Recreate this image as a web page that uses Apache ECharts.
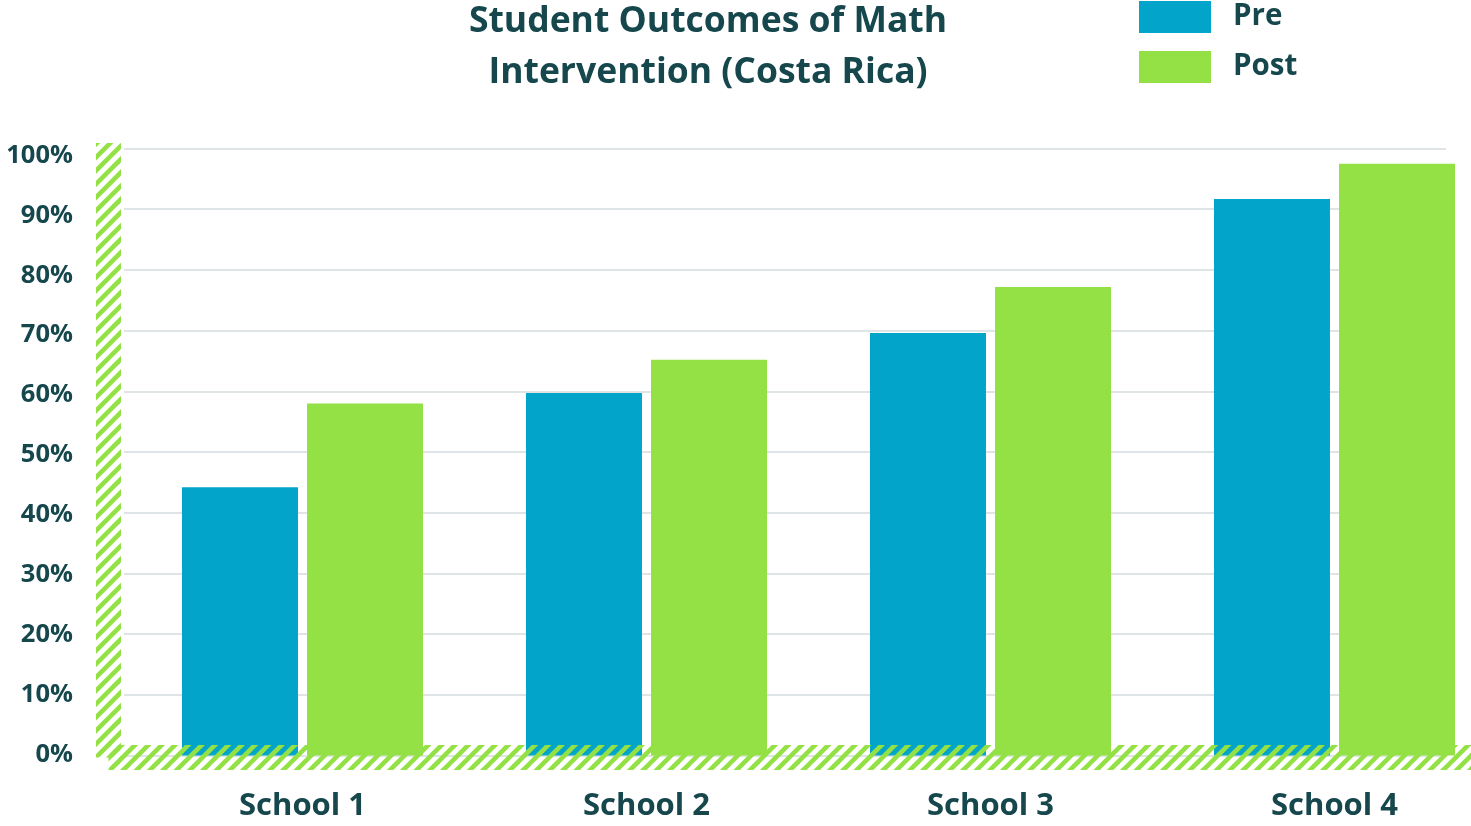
<!DOCTYPE html>
<html>
<head>
<meta charset="utf-8">
<script src="https://cdn.jsdelivr.net/npm/echarts@6/dist/echarts.min.js"></script>
<style>
  html, body { margin: 0; padding: 0; background: #fff; }
  #chart { width: 1471px; height: 826px; }
</style>
</head>
<body>
<div id="chart"></div>
<script>
// data
var schools = ['School 1', 'School 2', 'School 3', 'School 4'];
var preValues = [44.2, 59.7, 69.6, 91.7];
var postValues = [58, 65.2, 77.2, 97.5];
var seriesNames = ['Pre', 'Post'];

var textColor = '#16474d';
var blue = '#02a5c9';
var green = '#94e145';
var font = 'Open Sans';

// diagonal stripe tile for the hatched axes (3 stripes per 40px tile)
function stripeTile() {
  var size = 40;
  var c = document.createElement('canvas');
  c.width = size;
  c.height = size;
  var ctx = c.getContext('2d');
  ctx.strokeStyle = green;
  ctx.lineWidth = 4.6;
  var step = size / 3;
  for (var k = -6; k <= 9; k++) {
    var s = k * step;
    ctx.beginPath();
    ctx.moveTo(s + size, -size);
    ctx.lineTo(s - 2 * size, 2 * size);
    ctx.stroke();
  }
  return c;
}
var hatch = { image: stripeTile(), repeat: 'repeat' };

var chart = echarts.init(document.getElementById('chart'));

var hatchAxis = {
  gridIndex: 2,
  type: 'value',
  min: 0,
  max: 1,
  z: 3,
  axisLine: { show: true, onZero: false, lineStyle: { color: hatch, width: 25, cap: 'butt' } },
  axisTick: { show: false },
  axisLabel: { show: false },
  splitLine: { show: false }
};

var option = {
  backgroundColor: '#fff',
  animation: false,
  textStyle: { fontFamily: font },
  title: {
    text: 'Student Outcomes of Math\nIntervention (Costa Rica)',
    left: 708,
    top: -4,
    padding: 0,
    textAlign: 'center',
    textStyle: {
      fontFamily: font,
      fontSize: 35.5,
      fontWeight: 'bold',
      color: textColor,
      lineHeight: 51
    }
  },
  legend: {
    orient: 'vertical',
    left: 1139,
    top: 1,
    padding: 0,
    itemWidth: 72,
    itemHeight: 32,
    itemGap: 18,
    icon: 'rect',
    data: seriesNames,
    textStyle: {
      fontFamily: font,
      fontSize: 29.5,
      fontWeight: 'bold',
      color: textColor,
      padding: [0, 0, 0, 17]
    }
  },
  grid: [
    // grid lines
    { left: 124, right: 25, top: 148.5, bottom: 70.5, outerBoundsMode: 'none' },
    // bars
    { left: 130.5, width: 1376, top: 148.5, bottom: 70.5, outerBoundsMode: 'none' },
    // hatched axis bands
    { left: 108.5, right: 0, top: 143, bottom: 68.5, outerBoundsMode: 'none' },
    // y labels (spaced a little tighter than the grid lines)
    { left: 124, right: 25, top: 155.5, bottom: 71.5, outerBoundsMode: 'none' }
  ],
  xAxis: [
    { gridIndex: 0, type: 'category', data: schools, show: false },
    {
      gridIndex: 1,
      type: 'category',
      data: schools,
      axisLine: { show: false },
      axisTick: { show: false },
      axisLabel: {
        margin: 35,
        fontFamily: font,
        fontSize: 31,
        fontWeight: 'bold',
        color: textColor
      }
    },
    hatchAxis,
    { gridIndex: 3, type: 'category', data: schools, show: false }
  ],
  yAxis: [
    {
      gridIndex: 0,
      type: 'value',
      min: 0,
      max: 100,
      interval: 10,
      axisLine: { show: false },
      axisTick: { show: false },
      axisLabel: { show: false },
      splitLine: { lineStyle: { color: '#dfe4e6', width: 2 } }
    },
    { gridIndex: 1, type: 'value', min: 0, max: 100, show: false },
    hatchAxis,
    {
      gridIndex: 3,
      type: 'value',
      min: 0,
      max: 100,
      interval: 10,
      axisLine: { show: false },
      axisTick: { show: false },
      splitLine: { show: false },
      axisLabel: {
        formatter: '{value}%',
        margin: 51,
        fontFamily: font,
        fontSize: 25.5,
        fontWeight: 'bold',
        color: textColor
      }
    }
  ],
  series: [
    {
      name: seriesNames[0],
      type: 'bar',
      xAxisIndex: 1,
      yAxisIndex: 1,
      z: 1,
      barWidth: 116,
      barGap: '7.8%',
      itemStyle: { color: blue },
      data: preValues
    },
    {
      name: seriesNames[1],
      type: 'bar',
      xAxisIndex: 1,
      yAxisIndex: 1,
      z: 4,
      barWidth: 116,
      barGap: '7.8%',
      itemStyle: { color: green },
      data: postValues
    }
  ]
};

chart.setOption(option);
</script>
</body>
</html>
